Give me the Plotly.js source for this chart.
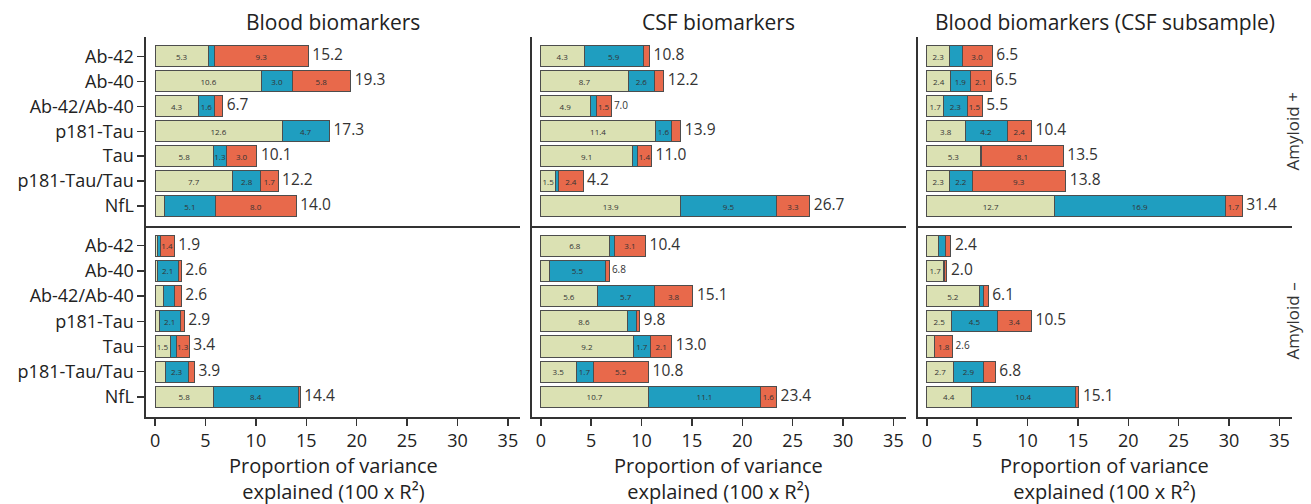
<!DOCTYPE html>
<html><head><meta charset="utf-8">
<script src="https://cdn.plot.ly/plotly-3.0.1.min.js"></script>
<style>html,body{margin:0;padding:0;background:#fff}#chart{width:1311px;height:504px}</style>
</head><body><div id="chart"></div>
<script>
const biomarkers = ["Ab-42","Ab-40","Ab-42/Ab-40","p181-Tau","Tau","p181-Tau/Tau","NfL"];
const panelTitles = ["Blood biomarkers","CSF biomarkers","Blood biomarkers (CSF subsample)"];
const rowLabels = ["Amyloid +","Amyloid \u2013"];
const xTicks = [0,5,10,15,20,25,30,35];
const xTitle = "Proportion of variance<br>explained (100 x R\u00b2)";

// Amyloid + , blood
const bloodPosGreen  = [5.3,10.6,4.3,12.6,5.8,7.7,0.9];
const bloodPosBlue   = [0.6,3.0,1.6,4.7,1.3,2.8,5.1];
const bloodPosOrange = [9.3,5.8,0.8,0.0,3.0,1.7,8.0];
const bloodPosTotal  = [15.2,19.3,6.7,17.3,10.1,12.2,14.0];
// Amyloid + , CSF
const csfPosGreen  = [4.3,8.7,4.9,11.4,9.1,1.5,13.9];
const csfPosBlue   = [5.9,2.6,0.6,1.6,0.5,0.3,9.5];
const csfPosOrange = [0.6,0.9,1.5,0.9,1.4,2.4,3.3];
const csfPosTotal  = [10.8,12.2,7.0,13.9,11.0,4.2,26.7];
// Amyloid + , blood (CSF subsample)
const subPosGreen  = [2.3,2.4,1.7,3.8,5.3,2.3,12.7];
const subPosBlue   = [1.2,1.9,2.3,4.2,0.15,2.2,16.9];
const subPosOrange = [3.0,2.1,1.5,2.4,8.1,9.3,1.7];
const subPosTotal  = [6.5,6.5,5.5,10.4,13.5,13.8,31.4];
// Amyloid - , blood
const bloodNegGreen  = [0.2,0.2,0.8,0.4,1.5,1.0,5.8];
const bloodNegBlue   = [0.3,2.1,1.1,2.1,0.6,2.3,8.4];
const bloodNegOrange = [1.4,0.3,0.7,0.4,1.3,0.6,0.2];
const bloodNegTotal  = [1.9,2.6,2.6,2.9,3.4,3.9,14.4];
// Amyloid - , CSF
const csfNegGreen  = [6.8,0.9,5.6,8.6,9.2,3.5,10.7];
const csfNegBlue   = [0.5,5.5,5.7,0.9,1.7,1.7,11.1];
const csfNegOrange = [3.1,0.4,3.8,0.3,2.1,5.5,1.6];
const csfNegTotal  = [10.4,6.8,15.1,9.8,13.0,10.8,23.4];
// Amyloid - , blood (CSF subsample)
const subNegGreen  = [1.2,1.7,5.2,2.5,0.75,2.7,4.4];
const subNegBlue   = [0.7,0.05,0.4,4.5,0.05,2.9,10.4];
const subNegOrange = [0.5,0.25,0.5,3.4,1.8,1.2,0.3];
const subNegTotal  = [2.4,2.0,6.1,10.5,2.6,6.8,15.1];

const panels = [
  [bloodPosGreen,bloodPosBlue,bloodPosOrange,bloodPosTotal],
  [csfPosGreen,csfPosBlue,csfPosOrange,csfPosTotal],
  [subPosGreen,subPosBlue,subPosOrange,subPosTotal],
  [bloodNegGreen,bloodNegBlue,bloodNegOrange,bloodNegTotal],
  [csfNegGreen,csfNegBlue,csfNegOrange,csfNegTotal],
  [subNegGreen,subNegBlue,subNegOrange,subNegTotal]
];
// style: which total labels are drawn small in the original
const smallTotals = {1:[2], 4:[1], 5:[4]};

const colors = ['#dbe1b3','#1f9ec0','#e8694b'];
const outline = '#4d4d4d';
const FONT = 'Open Sans, sans-serif';

const traces = [];
panels.forEach((p, i) => {
  const sfx = i === 0 ? '' : String(i+1);
  const xa = 'x'+sfx, ya = 'y'+sfx;
  for (let s = 0; s < 3; s++) {
    traces.push({
      type:'bar', orientation:'h', x:p[s], y:biomarkers, xaxis:xa, yaxis:ya,
      marker:{color:colors[s], line:{color:outline, width:1}},
      text:p[s].map(v => v >= 1.25 ? v.toFixed(1) : ' '),
      textposition:'inside', insidetextanchor:'middle', textangle:0,
      constraintext:'none', textfont:{size:8, color:'#333', family:FONT},
      hoverinfo:'skip'
    });
  }
  const sums = biomarkers.map((b,k) => p[0][k]+p[1][k]+p[2][k]);
  const small = smallTotals[i] || [];
  traces.push({
    type:'scatter', mode:'text', x:sums, y:biomarkers, xaxis:xa, yaxis:ya,
    text:p[3].map(v => ' ' + v.toFixed(1)), textposition:'middle right',
    textfont:{family:FONT, color:'#333', size:biomarkers.map((b,k)=> small.includes(k) ? 10 : 15.5)},
    cliponaxis:false, hoverinfo:'skip'
  });
});

const W = 1311, H = 504;
const colPx = [[146,520],[531.7,905.5],[917.7,1291.5]];
const rowPx = [[37,226],[226,417]];
const layout = {
  width:W, height:H, margin:{l:0,r:0,t:0,b:0},
  paper_bgcolor:'#fff', plot_bgcolor:'rgba(0,0,0,0)',
  barmode:'stack', bargap:0.16, showlegend:false,
  font:{family:FONT, color:'#222'},
  annotations:[]
};
for (let i = 0; i < 6; i++) {
  const sfx = i === 0 ? '' : String(i+1);
  const c = i % 3, r = Math.floor(i/3);
  const bottom = r === 1;
  layout['xaxis'+sfx] = {
    domain:[colPx[c][0]/W, colPx[c][1]/W], anchor:'y'+sfx,
    range:[-0.9,36.2], showgrid:false, zeroline:false,
    showline:true, linecolor:'#333', linewidth:1.6,
    ticks: bottom ? 'outside' : '', ticklen:7, tickwidth:1.5, tickcolor:'#333',
    tickvals:xTicks, showticklabels:bottom,
    tickfont:{size:18, color:'#222', family:FONT},
    title:{text:''}
  };
  layout['yaxis'+sfx] = {
    domain:[1-rowPx[r][1]/H, 1-rowPx[r][0]/H], anchor:'x'+sfx,
    type:'category', categoryarray:biomarkers, categoryorder:'array',
    range:[6.8,-0.78], showgrid:false, zeroline:false,
    showline:true, linecolor:'#333', linewidth:1.6,
    ticks: c === 0 ? 'outside' : '', ticklen:7, tickwidth:1.5, tickcolor:'#333',
    showticklabels: c === 0, tickfont:{size:18, color:'#222', family:FONT}
  };
}
panelTitles.forEach((t, c) => {
  const cx = (colPx[c][0]+colPx[c][1])/2/W;
  layout.annotations.push({text:t, xref:'paper', yref:'paper',
    x:cx, y:1-22/H, xanchor:'center', yanchor:'middle',
    showarrow:false, font:{size:21, color:'#222', family:FONT}});
  layout.annotations.push({text:xTitle, xref:'paper', yref:'paper',
    x:cx, y:1-478/H, xanchor:'center', yanchor:'middle', borderpad:0,
    showarrow:false, font:{size:20, color:'#222', family:FONT}});
});
rowLabels.forEach((t, r) => {
  layout.annotations.push({text:t, xref:'paper', yref:'paper', textangle:-90,
    x:1292/W, y:1-(rowPx[r][0]+rowPx[r][1])/2/H, xanchor:'center', yanchor:'middle',
    showarrow:false, font:{size:17, color:'#333', family:FONT}});
});
Plotly.newPlot('chart', traces, layout, {staticPlot:true, displayModeBar:false});
</script></body></html>
